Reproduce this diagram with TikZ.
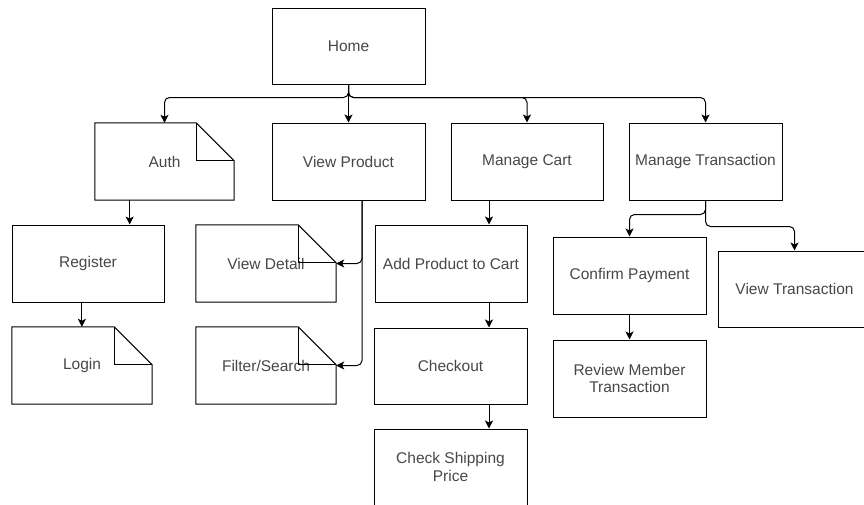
\documentclass[tikz,border=0pt]{standalone}
\usepackage{fontspec}
\setmainfont{Liberation Sans}
\usetikzlibrary{arrows.meta,calc}
\tikzset{
  x=1pt, y=-1pt,
  box/.style={draw=black, line width=1pt, rectangle, inner sep=0pt, align=center,
    font=\fontsize{15.5}{17.5}\selectfont, text=black!72},
  notebox/.style={draw=none, rectangle, inner sep=0pt, align=center,
    font=\fontsize{15.5}{17.5}\selectfont, text=black!72},
  outline/.style={draw=black, line width=1pt, line join=miter},
  arr/.style={draw=black, line width=1pt, -{Stealth[length=8pt,width=8pt,inset=2pt]}, rounded corners=5pt},
}
\newcommand\dogear[1]{%
  \draw[outline] (#1.north west) -- ($(#1.north east)+(-38,0)$) -- ($(#1.north east)+(0,38)$)
    -- (#1.south east) -- (#1.south west) -- cycle;
  \draw[outline] ($(#1.north east)+(-38,0)$) -- ($(#1.north east)+(-38,38)$) -- ($(#1.north east)+(0,38)$);
}
\begin{document}
\begin{tikzpicture}
\useasboundingbox (0,0) rectangle (864,504);
% boxes
\node[box, minimum width=153pt, minimum height=76pt] (home) at (348.5,46) {Home};
\node[notebox, minimum width=139pt, minimum height=77pt] (auth) at (164.5,161.5) {Auth};
\node[box, minimum width=153pt, minimum height=77pt] (viewprod) at (348.5,161.5) {View Product};
\node[box, minimum width=152pt, minimum height=77pt] (cart) at (527,161.5) {Manage Cart};
\node[box, minimum width=153pt, minimum height=77pt] (mt) at (705.5,161.5) {Manage Transaction};
\node[box, minimum width=152pt, minimum height=77pt] (register) at (88,263.5) {Register};
\node[notebox, minimum width=140pt, minimum height=77pt] (login) at (82,365.5) {Login};
\node[notebox, minimum width=140pt, minimum height=77pt] (viewdetail) at (266,263.5) {View Detail};
\node[notebox, minimum width=140pt, minimum height=77pt] (filter) at (266,365.5) {Filter/Search};
\node[box, minimum width=152pt, minimum height=77pt] (addcart) at (451,263.5) {Add Product to Cart};
\node[box, minimum width=153pt, minimum height=76pt] (checkout) at (450.5,366) {Checkout};
\node[box, minimum width=153pt, minimum height=76pt] (shipping) at (450.5,467) {Check Shipping\\Price};
\node[box, minimum width=153pt, minimum height=77pt] (confirm) at (629.5,275.5) {Confirm Payment};
\node[box, minimum width=153pt, minimum height=77pt] (review) at (629.5,378.5) {Review Member\\Transaction};
\node[box, minimum width=153pt, minimum height=76pt] (viewtrans) at (794.5,289) {View Transaction};
% note outlines
\dogear{auth}
\dogear{login}
\dogear{viewdetail}
\dogear{filter}
% connectors
\draw[arr] (home.south) -- ++(0,13) -| (auth.north);
\draw[arr] (home.south) -- ++(0,13) -| (cart.north);
\draw[arr] (home.south) -- ++(0,13) -| (mt.north);
\draw[arr] (home.south) -- (viewprod.north);
\coordinate (c1) at ($(auth.south west)!.5!(register.north east)$);
\draw[arr] (c1 |- auth.south) -- (c1 |- register.north);
\coordinate (c2) at ($(register.south west)!.5!(login.north east)$);
\draw[arr] (c2 |- register.south) -- (c2 |- login.north);
\coordinate (vp) at ($(viewprod.south)+(13.5,0)$);
\draw[arr] (vp) |- (viewdetail.east);
\draw[arr] (vp) |- (filter.east);
\coordinate (c3) at ($(cart.south west)!.5!(addcart.north east)$);
\draw[arr] (c3 |- cart.south) -- (c3 |- addcart.north);
\draw[arr] (c3 |- addcart.south) -- (c3 |- checkout.north);
\draw[arr] (c3 |- checkout.south) -- (c3 |- shipping.north);
\draw[arr] (mt.south) -- ++(0,14) -| (confirm.north);
\draw[arr] (mt.south) -- ++(0,26) -| (viewtrans.north);
\draw[arr] (confirm.south) -- (review.north);
\end{tikzpicture}
\end{document}
